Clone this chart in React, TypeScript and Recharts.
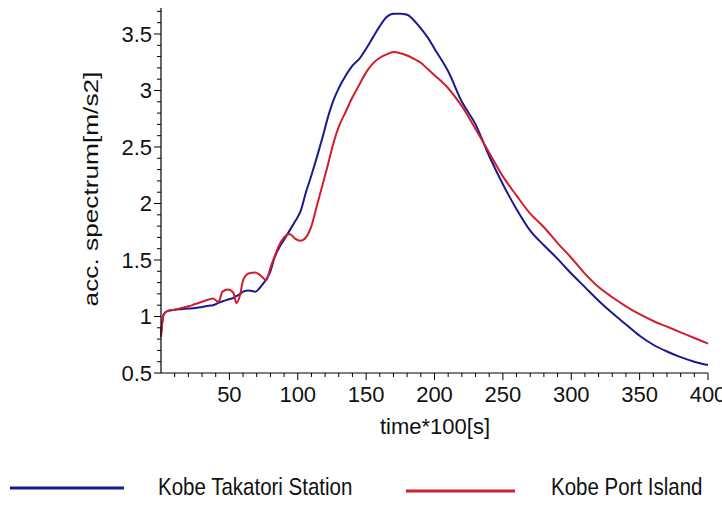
import React from 'react';
import { LineChart, Line, XAxis, YAxis, Legend } from 'recharts';

// time*100[s]
const times = [
  0, 2, 5, 10, 15, 20, 25, 30, 35, 38, 42, 45, 49, 53, 55, 58, 60, 64, 69, 72, 74, 77, 80, 83, 86, 90,
  94, 98, 102, 106, 110, 114, 118, 122, 126, 130, 135, 140, 145, 150, 155, 160, 165, 170, 175, 180,
  185, 190, 195, 200, 210, 220, 230, 240, 250, 260, 270, 280, 290, 300, 310, 320, 330, 340, 350, 360,
  370, 380, 390, 400,
];

// acc. spectrum [m/s2]
const takatori = [
  0.85, 1.02, 1.05, 1.06, 1.065, 1.07, 1.075, 1.085, 1.095, 1.1, 1.12, 1.135, 1.15, 1.165, 1.18, 1.2,
  1.22, 1.23, 1.22, 1.25, 1.28, 1.33, 1.4, 1.52, 1.6, 1.68,
  1.76, 1.84, 1.93, 2.1, 2.25, 2.41, 2.58, 2.76, 2.91, 3.02, 3.13, 3.22, 3.28, 3.37, 3.47, 3.57,
  3.65, 3.68, 3.68, 3.67, 3.62, 3.55, 3.47, 3.37, 3.17, 2.9, 2.7, 2.42, 2.17, 1.95, 1.76, 1.63,
  1.51, 1.38, 1.26, 1.14, 1.03, 0.93, 0.83, 0.75, 0.69, 0.64, 0.6, 0.57,
];

const portIsland = [
  0.82, 1.02, 1.05, 1.06, 1.075, 1.09, 1.11, 1.13, 1.15, 1.16, 1.13, 1.22, 1.24, 1.21, 1.12, 1.2,
  1.32, 1.38, 1.39, 1.37, 1.35, 1.32, 1.43, 1.53, 1.62, 1.7,
  1.73, 1.69, 1.67, 1.7, 1.8, 1.98, 2.16, 2.34, 2.53, 2.68, 2.81, 2.94, 3.05, 3.16, 3.24, 3.29,
  3.32, 3.34, 3.33, 3.31, 3.28, 3.245, 3.19, 3.135, 3.02, 2.86, 2.66, 2.45, 2.24, 2.07, 1.91, 1.79,
  1.65, 1.52, 1.38, 1.26, 1.17, 1.09, 1.02, 0.96, 0.91, 0.86, 0.81, 0.76,
];

const xLabels = [50, 100, 150, 200, 250, 300, 350, 400];
const yLabels = [0.5, 1, 1.5, 2, 2.5, 3, 3.5];

const xTicks: number[] = [];
for (let k = 0; k <= 40; k++) xTicks.push(k * 10);
const yTicks: number[] = [];
for (let k = 0; k <= 32; k++) yTicks.push(Math.round((0.5 + k * 0.1) * 10) / 10);

const BLUE = '#1a1a8c';
const RED = '#d01e2e';
const FONT = '"Liberation Sans", Arial, sans-serif';

const data = times.map((t, i) => ({ t, takatori: takatori[i], port: portIsland[i] }));

function XTick(props: any) {
  const { x, y, payload } = props;
  const v = payload.value;
  if (v === 0) return null;
  const major = xLabels.includes(v);
  return (
    <g>
      <line x1={x} x2={x} y1={y} y2={y + (major ? 7 : 4)} stroke="#000" strokeWidth={1} />
      {major && (
        <text x={x} y={y + 29} textAnchor="middle" fontSize={22} fontFamily={FONT} fill="#111">
          {v}
        </text>
      )}
    </g>
  );
}

function YTick(props: any) {
  const { x, y, payload } = props;
  const v = payload.value;
  const major = yLabels.some((m) => Math.abs(m - v) < 1e-6);
  return (
    <g>
      <line x1={x} x2={x - (major ? 7 : 4)} y1={y} y2={y} stroke="#000" strokeWidth={1} />
      {major && (
        <text x={x - 9} y={y + 8} textAnchor="end" fontSize={22} fontFamily={FONT} fill="#111">
          {v}
        </text>
      )}
    </g>
  );
}

function LegendBox() {
  return (
    <svg width={722} height={45} style={{ display: 'block' }}>
      <line x1={10} x2={124} y1={23} y2={23} stroke={BLUE} strokeWidth={3} />
      <text transform="translate(158,30) scale(1,1.15)" fontSize={20.5} fontFamily={FONT} fill="#111">
        Kobe Takatori Station
      </text>
      <line x1={406} x2={515} y1={26} y2={26} stroke={RED} strokeWidth={3} />
      <text transform="translate(551,30) scale(1,1.15)" fontSize={20.5} fontFamily={FONT} fill="#111">
        Kobe Port Island
      </text>
    </svg>
  );
}

export default function App() {
  return (
    <div style={{ position: 'absolute', left: 0, top: 0, width: 722, height: 510, background: '#fff' }}>
      <LineChart width={722} height={510} data={data} margin={{ top: 8, right: 14, left: 0, bottom: 0 }}>
        <XAxis
          dataKey="t"
          type="number"
          domain={[0, 400]}
          ticks={xTicks}
          interval={0}
          height={137}
          tickLine={false}
          tickSize={0}
          tickMargin={0}
          axisLine={{ stroke: '#000', strokeWidth: 1.2 }}
          tick={<XTick />}
        />
        <YAxis
          type="number"
          domain={[0.5, 3.73]}
          allowDataOverflow
          ticks={yTicks}
          interval={0}
          width={161}
          tickLine={false}
          tickSize={0}
          tickMargin={0}
          axisLine={{ stroke: '#000', strokeWidth: 1.2 }}
          tick={<YTick />}
        />
        <Legend
          layout="horizontal"
          verticalAlign="middle"
          align="center"
          wrapperStyle={{ position: 'absolute', left: 0, top: 465, width: 722, height: 45 }}
          content={() => <LegendBox />}
        />
        <text x={435} y={434} textAnchor="middle" fontSize={22} fontFamily={FONT} fill="#111">
          time*100[s]
        </text>
        <text
          transform="translate(98,189) rotate(-90) scale(1.25,1)"
          textAnchor="middle"
          fontSize={21}
          fontFamily={FONT}
          fill="#111"
        >
          acc. spectrum[m/s2]
        </text>
        <Line
          type="monotone"
          dataKey="takatori"
          name="Kobe Takatori Station"
          stroke={BLUE}
          strokeWidth={2}
          dot={false}
          isAnimationActive={false}
        />
        <Line
          type="monotone"
          dataKey="port"
          name="Kobe Port Island"
          stroke={RED}
          strokeWidth={2}
          dot={false}
          isAnimationActive={false}
        />
      </LineChart>
    </div>
  );
}
